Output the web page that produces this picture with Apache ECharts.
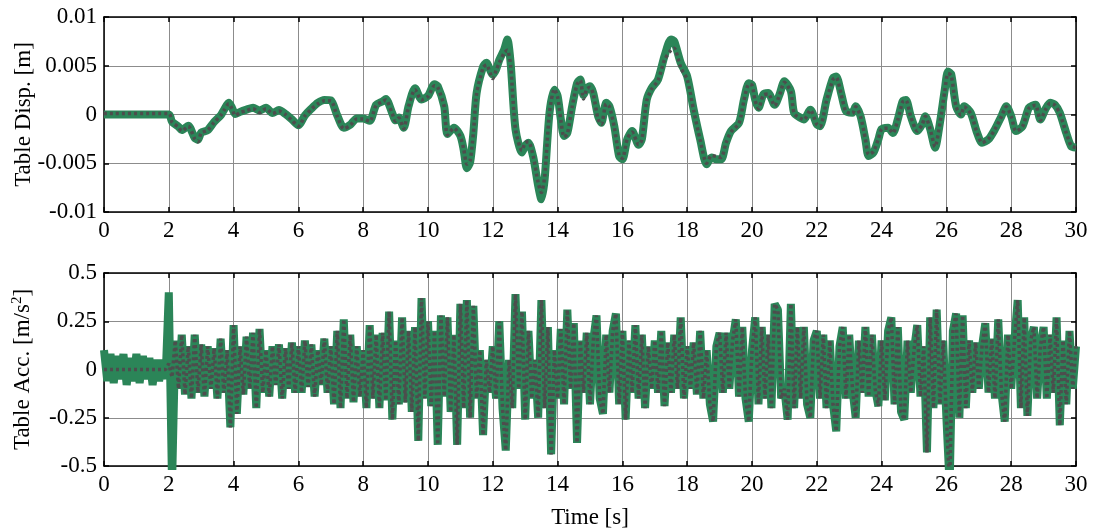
<!DOCTYPE html>
<html lang="en">
<head>
<meta charset="UTF-8">
<title>Table displacement and acceleration</title>
<script src="https://cdn.jsdelivr.net/npm/echarts@6/dist/echarts.min.js"></script>
<style>
  html, body { margin: 0; padding: 0; background: #fff; }
  #main { width: 1094px; height: 531px; }
</style>
</head>
<body>
<div id="main"></div>
<script type="text/javascript">
// displacement, time [s] and value [mm]
var dispTime = [0, 2.0, 2.1, 2.3, 2.4, 2.6, 2.8, 2.9, 3.0, 3.2, 3.4, 3.6, 3.7, 3.85, 3.95, 4.05, 4.2, 4.4, 4.6, 4.8,
  5.0, 5.2, 5.4, 5.6, 5.8, 6.0, 6.2, 6.4, 6.6, 6.8, 7.0, 7.2, 7.4, 7.6, 7.8, 8.0, 8.2, 8.4, 8.6, 8.7,
  8.9, 9.0, 9.1, 9.25, 9.4, 9.6, 9.8, 10.0, 10.2, 10.3, 10.5, 10.6, 10.8, 11.0, 11.1, 11.2, 11.3, 11.4, 11.5, 11.7,
  11.8, 12.0, 12.1, 12.2, 12.35, 12.45, 12.55, 12.7, 12.9, 13.0, 13.1, 13.25, 13.4, 13.5, 13.6, 13.75, 13.9, 14.0, 14.1, 14.2,
  14.3, 14.45, 14.6, 14.7, 14.8, 14.9, 15.0, 15.1, 15.25, 15.35, 15.5, 15.6, 15.75, 15.9, 16.0, 16.15, 16.3, 16.5, 16.6, 16.75,
  16.9, 17.1, 17.3, 17.5, 17.6, 17.8, 18.0, 18.2, 18.4, 18.6, 18.75, 18.9, 19.05, 19.2, 19.35, 19.6, 19.75, 19.9, 20.0, 20.1,
  20.2, 20.35, 20.5, 20.7, 20.85, 21.0, 21.2, 21.3, 21.5, 21.6, 21.8, 22.0, 22.1, 22.3, 22.5, 22.6, 22.75, 22.9, 23.1, 23.2,
  23.35, 23.5, 23.6, 23.75, 23.9, 24.0, 24.2, 24.35, 24.5, 24.65, 24.75, 24.9, 25.1, 25.25, 25.35, 25.5, 25.65, 25.8, 25.95, 26.05,
  26.15, 26.3, 26.45, 26.55, 26.75, 26.95, 27.1, 27.3, 27.5, 27.7, 27.85, 28.0, 28.15, 28.35, 28.55, 28.75, 28.9, 29.05, 29.2, 29.35,
  29.5, 29.7, 29.85, 30.0];

var dispTarget = [0, 0, -0.75, -1.25, -1.6, -1.15, -2.4, -2.6, -1.85, -1.6, -0.75, -0.1, 0.45, 1.2, 0.7, 0.05, 0.27, 0.5, 0.7, 0.4,
  0.7, 0.15, 0.45, 0.05, -0.5, -1.1, -0.1, 0.6, 1.2, 1.5, 1.45, -0.1, -1.35, -1.05, -0.4, -0.4, -0.65, 1.0, 1.35, 1.6,
  0.1, -0.6, -0.3, -1.35, 0.85, 2.7, 1.55, 1.9, 3.1, 2.9, 0.85, -2.0, -1.35, -2.2, -3.6, -5.5, -4.9, -1.9, 2.2, 4.9,
  5.3, 4.1, 4.6, 5.6, 6.65, 7.7, 5.3, -1.5, -3.9, -3.2, -2.9, -4.4, -7.3, -8.7, -6.65, 0.17, 2.55, 1.9, -0.5, -2.2,
  -1.9, 0.85, 3.2, 3.6, 2.0, 2.7, 2.9, 2.2, -0.17, -0.85, 1.2, 0.85, -1.2, -4.3, -4.6, -2.55, -1.7, -3.1, -2.55, 1.5,
  2.7, 3.6, 6.0, 7.7, 7.5, 5.3, 3.9, 0.5, -2.55, -5.1, -4.4, -4.6, -4.6, -2.9, -1.7, -0.85, 1.5, 3.2, 3.05, 1.5,
  0.7, 2.05, 2.2, 1.0, 2.05, 3.4, 2.4, 0.17, -0.35, -0.5, 0.5, -1.0, -1.2, 1.5, 3.75, 3.9, 2.2, 0.35, 0.17, 0.85,
  -0.17, -2.55, -4.25, -3.9, -2.55, -1.5, -1.35, -1.9, -0.5, 1.35, 1.5, -0.17, -1.7, -1.0, -0.17, -1.5, -3.4, -0.85, 2.55, 4.4,
  4.1, 0.85, 0, 0.85, 0.17, -1.9, -2.9, -2.55, -1.5, -0.17, 0.85, -0.17, -1.7, -1.2, 0.7, 1.0, -0.5, 0.5, 1.2, 1.0,
  0.17, -1.9, -3.25, -3.4];

var dispMeasured = [0.1, 0.1, -0.8, -1.3, -1.7, -1.2, -2.5, -2.8, -1.9, -1.6, -0.8, -0.1, 0.4, 1.1, 0.6, -0.1, 0.2, 0.4, 0.6, 0.2,
  0.6, 0.1, 0.35, 0.0, -0.6, -1.2, -0.15, 0.55, 1.1, 1.4, 1.4, -0.2, -1.45, -1.1, -0.45, -0.45, -0.7, 0.95, 1.3, 1.5,
  0.05, -0.7, -0.35, -1.45, 0.8, 2.55, 1.5, 1.85, 2.95, 2.8, 0.8, -2.1, -1.4, -2.3, -3.5, -5.1, -4.7, -1.9, 2.1, 4.8,
  5.1, 3.7, 4.5, 5.3, 6.3, 6.6, 5.0, -1.5, -3.7, -2.9, -2.8, -4.3, -7.0, -8.0, -6.4, 0.2, 2.6, 1.8, -0.6, -2.3,
  -2.0, 0.8, 3.1, 3.5, 1.6, 2.6, 2.8, 2.1, -0.5, -1.0, 1.1, 0.8, -1.3, -4.2, -4.5, -2.5, -1.8, -3.1, -2.6, 1.4,
  2.6, 3.5, 5.6, 6.6, 6.8, 4.8, 3.6, 0.4, -2.6, -5.0, -4.2, -4.3, -4.4, -2.9, -1.8, -0.9, 1.4, 3.1, 3.0, 1.4,
  0.6, 2.0, 2.1, 0.9, 2.0, 3.3, 2.3, 0.1, -0.4, -0.55, 0.45, -1.0, -1.25, 1.4, 3.6, 3.8, 2.1, 0.3, 0.1, 0.8,
  -0.2, -2.5, -4.1, -3.8, -2.5, -1.5, -1.4, -1.9, -0.55, 1.3, 1.45, -0.2, -1.7, -1.05, -0.2, -1.5, -3.3, -0.9, 2.4, 4.2,
  4.0, 0.8, -0.05, 0.8, 0.1, -1.9, -2.9, -2.5, -1.5, -0.2, 0.8, -0.2, -1.7, -1.25, 0.65, 0.95, -0.6, 0.45, 1.15, 0.95,
  0.1, -1.9, -3.2, -3.4];

// acceleration [m/s^2], sampled every 0.1 s
var accTargetHead = [0.10, -0.06, 0.08, -0.07, 0.07, -0.05, 0.08, -0.08, 0.06, -0.06,
  0.08, -0.07, 0.07, -0.05, 0.06, -0.08, 0.05, -0.06, 0.05, -0.05, 0.40, -0.60];
var accMeasuredHead = [0, 0, 0, 0, 0, 0, 0, 0, 0, 0,
  0, 0, 0, 0, 0, 0, 0, 0, 0, 0, 0.03, -0.04];
var accBody = [0.15, -0.10, 0.18, -0.13, 0.12, -0.15, 0.18, -0.12,
  0.13, -0.14, 0.12, -0.10, 0.11, -0.15, 0.16, -0.12, 0.10, -0.30,
  0.23, -0.23, 0.12, -0.13, 0.17, -0.10, 0.19, -0.20, 0.21, -0.12,
  0.10, -0.14, 0.12, -0.08, 0.13, -0.15, 0.11, -0.10, 0.14, -0.12,
  0.12, -0.12, 0.15, -0.09, 0.13, -0.14, 0.10, -0.08, 0.16, -0.12,
  0.12, -0.18, 0.20, -0.20, 0.26, -0.15, 0.18, -0.17, 0.12, -0.14,
  0.10, -0.20, 0.23, -0.15, 0.18, -0.20, 0.19, -0.16, 0.30, -0.26,
  0.15, -0.18, 0.27, -0.17, 0.20, -0.22, 0.22, -0.37, 0.37, -0.15,
  0.25, -0.19, 0.20, -0.39, 0.28, -0.14, 0.27, -0.22, 0.18, -0.39,
  0.34, -0.20, 0.36, -0.25, 0.33, -0.15, 0.10, -0.34, 0.05, -0.12,
  0.12, -0.15, 0.25, -0.20, -0.42, 0.05, -0.20, 0.39, -0.10, 0.30,
  -0.26, 0.20, -0.15, 0.05, -0.25, 0.36, -0.20, 0.22, -0.44, 0.10,
  -0.15, 0.21, -0.18, 0.31, -0.10, 0.24, -0.38, 0.15, -0.12, 0.19,
  -0.18, 0.15, 0.28, -0.15, -0.23, 0.18, -0.12, 0.20, 0.29, -0.18,
  0.20, -0.26, 0.15, -0.12, 0.23, -0.15, 0.18, -0.20, 0.12, -0.10,
  0.15, -0.12, 0.20, -0.19, 0.14, -0.12, 0.18, -0.10, 0.27, -0.15,
  0.12, -0.10, 0.14, -0.13, 0.20, -0.15, 0.10, -0.18, -0.27, 0.12,
  0.19, -0.12, 0.19, -0.10, 0.15, 0.26, -0.14, 0.22, -0.15, -0.27,
  0.10, 0.27, -0.18, 0.22, -0.15, 0.18, -0.20, 0.34, 0.31, -0.15,
  -0.10, -0.26, 0.34, -0.20, 0.22, -0.15, 0.22, -0.18, -0.25, 0.15,
  0.20, -0.15, 0.18, -0.20, 0.15, -0.18, -0.32, 0.12, 0.22, -0.15,
  0.18, -0.10, -0.25, 0.15, -0.12, 0.22, -0.14, 0.18, -0.10, -0.19,
  0.15, -0.16, 0.20, 0.27, -0.18, 0.22, -0.22, -0.26, 0.15, -0.12,
  0.10, 0.23, -0.14, 0.12, -0.43, 0.27, -0.20, 0.31, -0.18, 0.15,
  -0.25, -0.60, 0.20, 0.29, -0.25, 0.28, -0.20, 0.15, -0.12, 0.14,
  -0.10, 0.12, 0.24, -0.12, 0.16, -0.15, 0.26, -0.12, -0.27, 0.18,
  -0.10, 0.15, 0.36, -0.20, 0.27, -0.24, 0.15, 0.22, -0.15, 0.12,
  0.22, -0.15, 0.18, -0.12, 0.27, -0.29, 0.15, -0.18, 0.20, -0.10,
  0.12];

var green = '#2b8558';
var grey = '#4d4d4d';
var font = 'Liberation Serif';

function pairsDisp(vals) {
  var out = [];
  for (var i = 0; i < dispTime.length; i++) out.push([dispTime[i], vals[i] / 1000]);
  return out;
}
function pairsAcc(head) {
  var vals = head.concat(accBody);
  var out = [];
  for (var i = 0; i < vals.length; i++) out.push([i / 10, vals[i]]);
  return out;
}

var myChart = echarts.init(document.getElementById('main'));

var labelStyle = { color: '#000', fontFamily: font, fontSize: 23 };
function xAx(grid, pos, show) {
  return {
    type: 'value', gridIndex: grid, position: pos, min: 0, max: 30, interval: 2,
    axisLine: { show: true, onZero: false, lineStyle: { color: '#000', width: 1.5 } },
    axisTick: { show: true, inside: true, length: 5, lineStyle: { color: '#000', width: 1.5 } },
    axisLabel: Object.assign({ show: show, margin: 7 }, labelStyle),
    splitLine: { show: show, lineStyle: { color: '#8c8c8c', width: 1 } }
  };
}
function yAx(grid, pos, show, mn, mx, step, name) {
  return {
    type: 'value', gridIndex: grid, position: pos, min: mn, max: mx, interval: step,
    name: show ? name : '', nameLocation: 'middle', nameGap: 69, nameRotate: 90, nameMoveOverlap: false,
    nameTextStyle: {
      color: '#000', fontFamily: font, fontSize: 23,
      rich: { sup: { fontFamily: font, fontSize: 15, verticalAlign: 'top', padding: [0, 0, 10, 0], color: '#000' } }
    },
    axisLine: { show: true, onZero: false, lineStyle: { color: '#000', width: 1.5 } },
    axisTick: { show: true, inside: true, length: 5, lineStyle: { color: '#000', width: 1.5 } },
    axisLabel: Object.assign({ show: show, margin: 7 }, labelStyle),
    splitLine: { show: show, lineStyle: { color: '#8c8c8c', width: 1 } }
  };
}

myChart.setOption({
  animation: false,
  backgroundColor: '#fff',
  grid: [
    { left: 104, right: 18, top: 17, height: 195, containLabel: false, outerBoundsMode: 'none' },
    { left: 104, right: 18, top: 273, height: 193, containLabel: false, outerBoundsMode: 'none' }
  ],
  xAxis: [
    xAx(0, 'bottom', true), xAx(0, 'top', false),
    Object.assign(xAx(1, 'bottom', true), {
      name: 'Time [s]', nameLocation: 'middle', nameGap: 40, nameMoveOverlap: false,
      nameTextStyle: { color: '#000', fontFamily: font, fontSize: 23 }
    }),
    xAx(1, 'top', false)
  ],
  yAxis: [
    yAx(0, 'left', true, -0.01, 0.01, 0.005, 'Table Disp. [m]'),
    yAx(0, 'right', false, -0.01, 0.01, 0.005, ''),
    yAx(1, 'left', true, -0.5, 0.5, 0.25, 'Table Acc. [m/s{sup|2}]'),
    yAx(1, 'right', false, -0.5, 0.5, 0.25, '')
  ],
  series: [
    { type: 'line', xAxisIndex: 0, yAxisIndex: 0, data: pairsDisp(dispTarget), showSymbol: false, smooth: 0.25,
      lineStyle: { color: green, width: 8 } },
    { type: 'line', xAxisIndex: 0, yAxisIndex: 0, data: pairsDisp(dispMeasured), showSymbol: false, smooth: 0.25,
      lineStyle: { color: grey, width: 3.5, type: [3, 3] } },
    { type: 'line', xAxisIndex: 2, yAxisIndex: 2, data: pairsAcc(accTargetHead), showSymbol: false,
      lineStyle: { color: green, width: 8 } },
    { type: 'line', xAxisIndex: 2, yAxisIndex: 2, data: pairsAcc(accMeasuredHead), showSymbol: false,
      lineStyle: { color: grey, width: 3.5, type: [3, 3] } }
  ]
});
</script>
</body>
</html>
